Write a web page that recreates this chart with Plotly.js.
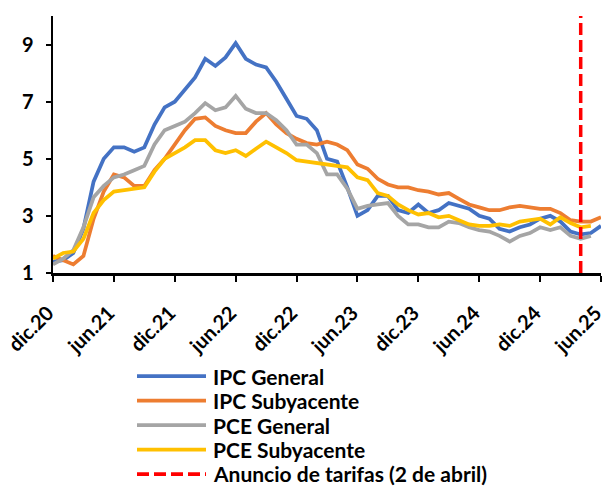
<!DOCTYPE html>
<html>
<head>
<meta charset="utf-8">
<script src="https://cdn.plot.ly/plotly-3.0.1.min.js"></script>
<style>
  html, body { margin: 0; padding: 0; background: #ffffff; }
  #chart { width: 606px; height: 486px; }
</style>
</head>
<body>
<div id="chart"></div>
<script>
// Monthly categories, Dec 2020 - Jun 2025
const categories = [
  "dic.20",
  "ene.21","feb.21","mar.21","abr.21","may.21","jun.21","jul.21","ago.21","sep.21","oct.21","nov.21","dic.21",
  "ene.22","feb.22","mar.22","abr.22","may.22","jun.22","jul.22","ago.22","sep.22","oct.22","nov.22","dic.22",
  "ene.23","feb.23","mar.23","abr.23","may.23","jun.23","jul.23","ago.23","sep.23","oct.23","nov.23","dic.23",
  "ene.24","feb.24","mar.24","abr.24","may.24","jun.24","jul.24","ago.24","sep.24","oct.24","nov.24","dic.24",
  "ene.25","feb.25","mar.25","abr.25","may.25","jun.25"
];

const tickLabels = ["dic.20","jun.21","dic.21","jun.22","dic.22","jun.23","dic.23","jun.24","dic.24","jun.25"];
const yTicks = [1, 3, 5, 7, 9];

// Year-over-year inflation (%)
const ipcGeneral = [1.4,1.45,1.7,2.55,4.2,5.0,5.4,5.4,5.25,5.4,6.2,6.8,7.0,7.45,7.85,8.5,8.25,8.55,9.05,8.5,8.3,8.2,7.7,7.1,6.5,6.4,6.0,5.0,4.9,4.0,3.0,3.2,3.7,3.7,3.2,3.1,3.4,3.1,3.2,3.45,3.35,3.25,3.0,2.9,2.55,2.45,2.6,2.7,2.9,3.0,2.8,2.45,2.35,2.4,2.65];
const ipcSubyacente = [1.6,1.45,1.3,1.6,2.9,3.85,4.45,4.35,4.05,4.05,4.6,5.0,5.5,6.0,6.4,6.45,6.15,6.0,5.9,5.9,6.3,6.6,6.2,5.9,5.7,5.55,5.5,5.6,5.5,5.3,4.8,4.65,4.3,4.1,4.0,4.0,3.9,3.85,3.75,3.8,3.6,3.4,3.3,3.2,3.2,3.3,3.35,3.3,3.25,3.25,3.1,2.85,2.8,2.8,2.95];
const pceGeneral = [1.3,1.5,1.8,2.6,3.65,4.05,4.35,4.45,4.6,4.75,5.5,6.0,6.15,6.3,6.6,6.95,6.7,6.8,7.2,6.75,6.6,6.6,6.35,6.0,5.5,5.5,5.2,4.45,4.45,3.95,3.25,3.35,3.4,3.45,3.0,2.7,2.7,2.6,2.6,2.8,2.75,2.6,2.5,2.45,2.3,2.1,2.3,2.4,2.6,2.5,2.6,2.3,2.2,2.3];
const pceSubyacente = [1.5,1.7,1.75,2.2,3.1,3.55,3.85,3.9,3.95,4.0,4.55,5.0,5.2,5.4,5.65,5.65,5.3,5.2,5.3,5.1,5.35,5.6,5.4,5.2,4.95,4.9,4.85,4.8,4.75,4.7,4.35,4.25,3.8,3.7,3.4,3.2,3.05,3.1,2.95,3.0,2.85,2.7,2.65,2.65,2.7,2.65,2.8,2.85,2.9,2.7,2.95,2.75,2.6,2.65];

const tariffMonth = "abr.25";
const tariffRange = [1, 10];

const seriesNames = ["IPC General", "IPC Subyacente", "PCE General", "PCE Subyacente", "Anuncio de tarifas (2 de abril)"];
const seriesColors = ["#4472C4", "#ED7D31", "#A5A5A5", "#FFC000", "#FF0000"];
const seriesDash = ["solid", "solid", "solid", "solid", "12px,5px"];

const FONT = "Lato, 'Open Sans', sans-serif";
const W = 606, H = 486;
const M = { l: 53, r: 5, t: 16, b: 213 };
const plotW = W - M.l - M.r, plotH = H - M.t - M.b;
const px2x = px => (px - M.l) / plotW;
const py2y = py => (H - M.b - py) / plotH;

function series(i, values) {
  return {
    type: "scatter",
    mode: "lines",
    name: seriesNames[i],
    x: categories.slice(0, values.length),
    y: values,
    line: { color: seriesColors[i], width: 3.75, dash: seriesDash[i] },
    showlegend: false
  };
}

const data = [
  series(0, ipcGeneral),
  series(1, ipcSubyacente),
  series(2, pceGeneral),
  series(3, pceSubyacente),
  {
    type: "scatter",
    mode: "lines",
    name: seriesNames[4],
    x: [tariffMonth, tariffMonth],
    y: tariffRange,
    line: { color: seriesColors[4], width: 3.5, dash: seriesDash[4] },
    showlegend: false
  }
];

// Legend (Excel style: long line swatches, tight rows)
const legendTop = 376, legendStep = 24.5;
const legendShapes = seriesNames.map((n, i) => ({
  type: "line", xref: "paper", yref: "paper",
  x0: px2x(137), x1: px2x(206),
  y0: py2y(legendTop + i * legendStep), y1: py2y(legendTop + i * legendStep),
  line: { color: seriesColors[i], width: 3.75, dash: seriesDash[i] }
}));
const legendLabels = seriesNames.map((n, i) => ({
  text: n, xref: "paper", yref: "paper",
  x: px2x(211), y: py2y(legendTop + i * legendStep),
  xanchor: "left", yanchor: "middle", showarrow: false,
  font: { family: FONT, size: 21, weight: "bold", color: "#000000" }
}));

const layout = {
  width: W,
  height: H,
  margin: M,
  paper_bgcolor: "#ffffff",
  plot_bgcolor: "#ffffff",
  font: { family: FONT, color: "#000000" },
  showlegend: false,
  xaxis: {
    type: "category",
    categoryorder: "array",
    categoryarray: categories,
    range: [0, categories.length - 1],
    tickmode: "array",
    tickvals: tickLabels,
    ticktext: tickLabels,
    tickangle: -45,
    tickfont: { family: FONT, size: 20, weight: "bold", color: "#000000" },
    ticks: "outside",
    ticklen: 6,
    tickwidth: 2,
    tickcolor: "#000000",
    ticklabelstandoff: 12,
    ticklabelshift: -5,
    showline: true,
    linecolor: "#000000",
    linewidth: 2.5,
    showgrid: false,
    zeroline: false,
    automargin: false
  },
  yaxis: {
    range: [1, 10],
    tickmode: "array",
    tickvals: yTicks,
    ticktext: yTicks.map(String),
    tickfont: { family: FONT, size: 20, weight: "bold", color: "#000000" },
    ticks: "outside",
    ticklen: 5,
    tickwidth: 2,
    tickcolor: "#000000",
    ticklabelstandoff: 8,
    showline: true,
    linecolor: "#000000",
    linewidth: 2.5,
    showgrid: false,
    zeroline: false,
    automargin: false
  },
  shapes: legendShapes,
  annotations: legendLabels
};

Plotly.newPlot("chart", data, layout, { staticPlot: true, displayModeBar: false });
</script>
</body>
</html>
